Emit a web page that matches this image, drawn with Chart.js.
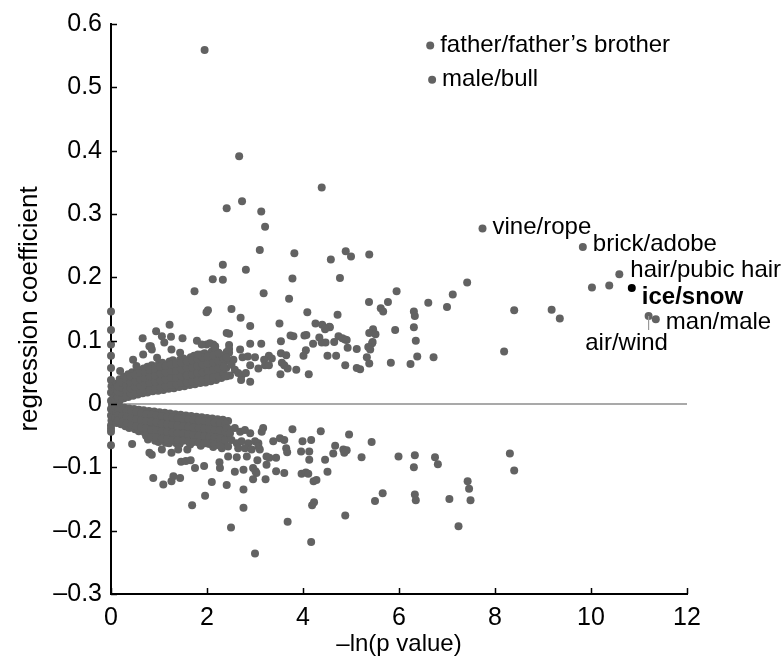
<!DOCTYPE html>
<html>
<head>
<meta charset="utf-8">
<script src="https://cdn.jsdelivr.net/npm/chart.js@4.4.0/dist/chart.umd.min.js"></script>
<style>
body { margin: 0; background: #fff; }
canvas { display: block; }
</style>
</head>
<body>
<canvas id="mycanvas" width="783" height="664"></canvas>
<script>
// x = -ln(p value), y = regression coefficient
var xTicks = [0, 2, 4, 6, 8, 10, 12];
var yTicks = [-0.3, -0.2, -0.1, 0, 0.1, 0.2, 0.3, 0.4, 0.5, 0.6];

// dots sitting on the y axis
var axisPoints = [[0,0.146],[0,0.117],[0,0.094],[0,0.076],[0,0.057],[0,0.038],[0,0.018],[0,0.005],
	[0,-0.008],[0,-0.018],[0,-0.034],[0,-0.039],[0,-0.044],[0,-0.065],[0.02,0.0],[0.06,-0.002],[0.08,0.002],[0.01,-0.026],[0.01,0.028]];

// dense positive band
var upperBand = [
	[0.03,0.004],[0.05,0.013],[0.04,0.021],
	[0.1,0.006],[0.11,0.016],[0.09,0.025],[0.12,0.032],
	[0.18,0.005],[0.19,0.013],[0.17,0.022],[0.2,0.03],[0.18,0.039],
	[0.27,0.009],[0.28,0.018],[0.26,0.026],[0.29,0.035],[0.27,0.043],
	[0.36,0.011],[0.37,0.02],[0.35,0.029],[0.38,0.038],[0.36,0.047],
	[0.46,0.013],[0.45,0.022],[0.47,0.031],[0.46,0.041],[0.44,0.05],
	[0.56,0.015],[0.57,0.024],[0.55,0.034],[0.58,0.044],[0.56,0.054],
	[0.66,0.017],[0.65,0.026],[0.67,0.036],[0.66,0.046],[0.68,0.056],
	[0.76,0.018],[0.77,0.028],[0.75,0.038],[0.78,0.049],[0.76,0.059],
	[0.87,0.02],[0.86,0.03],[0.88,0.04],[0.87,0.05],[0.85,0.061],
	[0.98,0.021],[0.99,0.031],[0.97,0.042],[0.98,0.053],[1.0,0.064],
	[1.09,0.022],[1.08,0.033],[1.1,0.044],[1.09,0.055],[1.07,0.065],
	[1.2,0.024],[1.21,0.035],[1.19,0.046],[1.2,0.057],[1.22,0.067],
	[1.31,0.025],[1.3,0.036],[1.32,0.047],[1.31,0.058],[1.29,0.069],
	[1.42,0.027],[1.43,0.038],[1.41,0.049],[1.42,0.06],[1.44,0.07],
	[1.53,0.028],[1.52,0.039],[1.54,0.051],[1.53,0.062],[1.51,0.072],
	[1.64,0.03],[1.65,0.041],[1.63,0.052],[1.64,0.063],[1.66,0.074],
	[1.75,0.031],[1.74,0.043],[1.76,0.054],[1.75,0.065],[1.73,0.076],
	[1.86,0.033],[1.87,0.044],[1.85,0.056],[1.86,0.067],[1.88,0.078],
	[1.97,0.034],[1.96,0.046],[1.98,0.058],[1.97,0.069],[1.95,0.08],
	[2.08,0.036],[2.09,0.048],[2.07,0.06],[2.08,0.071],[2.1,0.083],
	[2.19,0.038],[2.18,0.05],[2.2,0.062],[2.19,0.074],[2.17,0.086],
	[2.3,0.041],[2.31,0.053],[2.29,0.065],[2.3,0.077],
	[2.41,0.044],[2.4,0.057],[2.42,0.069],[2.41,0.082],
	// in-between dots of the same band
	[0.14,0.011],[0.14,0.02],[0.14,0.028],
	[0.23,0.009],[0.23,0.018],[0.23,0.026],[0.23,0.034],
	[0.32,0.013],[0.32,0.022],[0.32,0.03],[0.32,0.039],
	[0.41,0.016],[0.41,0.025],[0.41,0.034],[0.41,0.043],
	[0.51,0.018],[0.51,0.027],[0.51,0.036],[0.51,0.046],
	[0.61,0.02],[0.61,0.029],[0.61,0.039],[0.61,0.049],
	[0.71,0.022],[0.71,0.031],[0.71,0.041],[0.71,0.051],
	[0.81,0.023],[0.81,0.033],[0.81,0.044],[0.81,0.054],
	[0.92,0.025],[0.92,0.035],[0.92,0.045],[0.92,0.056],
	[1.03,0.026],[1.03,0.037],[1.03,0.048],[1.03,0.059],
	[1.14,0.028],[1.14,0.039],[1.14,0.05],[1.14,0.06],
	[1.25,0.03],[1.25,0.041],[1.25,0.052],[1.25,0.062],
	[1.36,0.031],[1.36,0.042],[1.36,0.053],[1.36,0.064],
	[1.47,0.033],[1.47,0.044],[1.47,0.055],[1.47,0.065],
	[1.58,0.034],[1.58,0.045],[1.58,0.057],[1.58,0.067],
	[1.69,0.036],[1.69,0.047],[1.69,0.058],[1.69,0.069],
	[1.8,0.037],[1.8,0.049],[1.8,0.06],[1.8,0.071],
	[1.91,0.039],[1.91,0.05],[1.91,0.062],[1.91,0.073],
	[2.02,0.04],[2.02,0.052],[2.02,0.064],[2.02,0.075],
	[2.13,0.042],[2.13,0.054],[2.13,0.066],[2.13,0.077],
	[2.24,0.044],[2.24,0.056],[2.24,0.068],[2.24,0.08],
	[2.35,0.047],[2.35,0.059],[2.35,0.071]
];

// scattered positive dots
var upperScatter = [
	[1.95,0.559],[2.67,0.391],[4.39,0.342],[2.41,0.309],[2.73,0.320],[3.13,0.304],[3.21,0.280],[3.10,0.243],
	[3.82,0.238],[4.58,0.228],[4.89,0.241],[5.0,0.233],[5.38,0.236],[2.33,0.220],[2.81,0.212],[2.12,0.197],
	[2.33,0.196],[3.78,0.198],[4.77,0.199],[1.74,0.178],[3.18,0.175],[3.71,0.166],[5.95,0.178],[5.375,0.161],
	[5.77,0.161],[5.62,0.151],[5.67,0.146],[6.61,0.160],[7.0,0.153],[7.12,0.173],[7.42,0.192],[8.40,0.148],
	[9.18,0.149],[9.35,0.135],[10.02,0.184],[10.38,0.187],[8.19,0.083],
	[6.31,0.146],[6.33,0.139],[6.31,0.121],[6.35,0.100],[5.92,0.117],[5.83,0.065],[6.24,0.063],[6.38,0.075],[6.72,0.074],
	[4.72,0.141],[4.56,0.121],[4.09,0.145],[4.26,0.127],[4.40,0.125],[4.55,0.122],[4.46,0.118],[3.51,0.127],
	[2.90,0.123],[2.70,0.136],[2.51,0.150],[1.99,0.145],[2.02,0.148],[1.22,0.125],[0.94,0.115],
	[5.46,0.118],[5.38,0.112],[5.51,0.110],[5.45,0.098],[4.74,0.107],[4.875,0.102],[4.82,0.104],[4.91,0.101],
	[4.65,0.098],[4.34,0.105],[4.39,0.097],[4.47,0.097],[4.21,0.095],[3.74,0.108],[3.80,0.107],[4.03,0.108],
	[4.07,0.109],[3.54,0.099],[2.46,0.111],[2.46,0.093],[2.46,0.087],[2.90,0.095],[3.13,0.095],[2.69,0.086],
	[4.93,0.089],[5.12,0.087],[4.06,0.085],[2.46,0.081],[2.74,0.074],[2.85,0.075],[3.0,0.074],[3.29,0.076],
	[3.54,0.080],[3.65,0.077],[4.01,0.076],[4.51,0.076],[4.69,0.076],[3.19,0.070],[3.35,0.072],[3.56,0.065],
	[3.61,0.061],[3.21,0.061],[3.29,0.061],[2.90,0.061],[3.07,0.056],[3.68,0.056],[3.86,0.054],[3.53,0.047],
	[4.12,0.047],[4.88,0.061],[5.12,0.057],[5.19,0.055],[5.44,0.096],[5.36,0.090],[5.40,0.086],[5.33,0.074],[5.38,0.064],
	[2.51,0.062],[2.58,0.054],[2.65,0.049],[2.72,0.045],[2.48,0.045],[2.71,0.038],[2.90,0.035],[2.81,0.049],
	[2.55,0.070],[2.41,0.073],[2.38,0.044],
	[0.66,0.104],[1.06,0.107],[1.25,0.106],[1.49,0.104],[1.79,0.100],[2.41,0.112],[0.83,0.091],[1.11,0.097],
	[0.67,0.078],[0.96,0.073],[1.26,0.086],[1.44,0.081],[1.81,0.078],[1.99,0.094],[2.13,0.094],[2.24,0.081],
	[0.46,0.070],[0.53,0.060],[0.19,0.052],[1.89,0.094],[2.06,0.096],[2.17,0.091],[0.80,0.091],[0.85,0.086]
];

// dense negative band
var lowerBand = [
	[0.03,-0.004],[0.05,-0.012],[0.04,-0.02],
	[0.1,-0.004],[0.11,-0.013],[0.09,-0.022],[0.12,-0.03],
	[0.19,-0.005],[0.2,-0.014],[0.18,-0.023],[0.21,-0.032],
	[0.28,-0.006],[0.29,-0.015],[0.27,-0.025],[0.3,-0.035],
	[0.38,-0.007],[0.37,-0.017],[0.39,-0.027],[0.38,-0.038],
	[0.48,-0.008],[0.49,-0.018],[0.47,-0.029],[0.5,-0.04],
	[0.58,-0.009],[0.57,-0.02],[0.59,-0.031],[0.58,-0.043],
	[0.68,-0.01],[0.69,-0.021],[0.67,-0.033],[0.7,-0.045],
	[0.79,-0.011],[0.78,-0.022],[0.8,-0.034],[0.79,-0.047],[0.77,-0.056],
	[0.9,-0.012],[0.91,-0.023],[0.89,-0.035],[0.9,-0.048],[0.92,-0.058],
	[1.01,-0.013],[1.0,-0.025],[1.02,-0.037],[1.01,-0.049],[0.99,-0.06],
	[1.12,-0.014],[1.13,-0.026],[1.11,-0.038],[1.12,-0.05],[1.14,-0.061],
	[1.23,-0.015],[1.22,-0.027],[1.24,-0.039],[1.23,-0.051],[1.21,-0.062],
	[1.34,-0.016],[1.35,-0.028],[1.33,-0.04],[1.34,-0.052],[1.36,-0.062],
	[1.45,-0.017],[1.44,-0.029],[1.46,-0.041],[1.45,-0.053],[1.43,-0.063],
	[1.56,-0.018],[1.57,-0.03],[1.55,-0.042],[1.56,-0.054],
	[1.67,-0.019],[1.66,-0.031],[1.68,-0.043],[1.67,-0.055],[1.65,-0.064],
	[1.78,-0.02],[1.79,-0.032],[1.77,-0.044],[1.78,-0.056],
	[1.89,-0.021],[1.88,-0.033],[1.9,-0.045],[1.89,-0.057],[1.87,-0.066],
	[2.0,-0.022],[2.01,-0.034],[1.99,-0.046],[2.0,-0.058],
	[2.11,-0.023],[2.1,-0.035],[2.12,-0.047],[2.11,-0.059],[2.13,-0.068],
	[2.22,-0.024],[2.23,-0.036],[2.21,-0.048],[2.22,-0.06],
	[2.33,-0.025],[2.32,-0.037],[2.34,-0.05],[2.33,-0.062],[2.31,-0.07],
	[2.44,-0.027],[2.45,-0.04],[2.43,-0.053],
	// in-between dots of the same band
	[0.15,-0.009],[0.15,-0.018],[0.15,-0.026],
	[0.24,-0.01],[0.24,-0.019],[0.24,-0.028],
	[0.33,-0.011],[0.33,-0.02],[0.33,-0.03],
	[0.43,-0.012],[0.43,-0.022],[0.43,-0.033],
	[0.53,-0.013],[0.53,-0.024],[0.53,-0.035],
	[0.63,-0.015],[0.63,-0.026],[0.63,-0.037],
	[0.73,-0.016],[0.73,-0.027],[0.73,-0.039],[0.73,-0.05],
	[0.84,-0.017],[0.84,-0.028],[0.84,-0.041],[0.84,-0.052],
	[0.95,-0.018],[0.95,-0.029],[0.95,-0.042],[0.95,-0.053],
	[1.06,-0.019],[1.06,-0.031],[1.06,-0.043],[1.06,-0.055],
	[1.17,-0.02],[1.17,-0.032],[1.17,-0.044],[1.17,-0.056],
	[1.28,-0.021],[1.28,-0.033],[1.28,-0.045],[1.28,-0.057],
	[1.39,-0.022],[1.39,-0.034],[1.39,-0.046],[1.39,-0.057],
	[1.5,-0.023],[1.5,-0.035],[1.5,-0.047],[1.5,-0.058],
	[1.61,-0.024],[1.61,-0.036],[1.61,-0.048],[1.61,-0.059],
	[1.72,-0.025],[1.72,-0.037],[1.72,-0.049],[1.72,-0.06],
	[1.83,-0.026],[1.83,-0.038],[1.83,-0.05],[1.83,-0.061],
	[1.94,-0.027],[1.94,-0.039],[1.94,-0.051],[1.94,-0.062],
	[2.05,-0.028],[2.05,-0.04],[2.05,-0.052],[2.05,-0.063],
	[2.16,-0.029],[2.16,-0.041],[2.16,-0.053],[2.16,-0.064],
	[2.27,-0.03],[2.27,-0.042],[2.27,-0.055],[2.27,-0.066],
	[2.38,-0.031],[2.38,-0.044],[2.38,-0.057]
];

// scattered negative dots
var lowerScatter = [
	[0.44,-0.063],[0.80,-0.077],[0.85,-0.080],[1.06,-0.072],[1.26,-0.077],[1.40,-0.072],[1.59,-0.072],[1.46,-0.091],
	[1.56,-0.090],[1.66,-0.089],[1.75,-0.101],[1.94,-0.098],[2.26,-0.092],[2.27,-0.101],[1.99,-0.062],[0.88,-0.117],
	[1.09,-0.127],[1.26,-0.122],[1.30,-0.114],[1.44,-0.117],[2.10,-0.123],[2.41,-0.128],[1.96,-0.145],[1.69,-0.160],
	[2.5,-0.195],[2.76,-0.135],[2.76,-0.164],[3.0,-0.236],[3.68,-0.186],[4.17,-0.218],[4.19,-0.160],[4.23,-0.155],
	[4.88,-0.176],[5.5,-0.153],[5.66,-0.141],[5.22,-0.084],[5.43,-0.060],[5.99,-0.083],[6.33,-0.081],[6.31,-0.100],
	[6.75,-0.084],[6.81,-0.095],[8.31,-0.078],[8.40,-0.105],[6.33,-0.143],[6.35,-0.152],[7.05,-0.150],[7.43,-0.122],
	[7.46,-0.134],[7.49,-0.152],[7.24,-0.193],
	[3.78,-0.040],[4.37,-0.043],[4.96,-0.048],[3.52,-0.054],[3.61,-0.057],[3.38,-0.059],[3.99,-0.059],[4.17,-0.057],
	[3.65,-0.070],[3.67,-0.076],[3.96,-0.075],[4.13,-0.075],[4.67,-0.066],[4.84,-0.072],[4.91,-0.073],[4.86,-0.077],
	[4.63,-0.078],[4.46,-0.088],[4.13,-0.088],[3.24,-0.083],[3.30,-0.085],[3.44,-0.085],[3.05,-0.089],[2.96,-0.101],
	[3.01,-0.106],[3.03,-0.109],[2.76,-0.104],[2.58,-0.107],[3.44,-0.106],[3.61,-0.109],[3.97,-0.110],[4.06,-0.108],
	[4.11,-0.110],[4.51,-0.107],[2.96,-0.119],[3.22,-0.119],[4.22,-0.122],[4.28,-0.120],
	[2.41,-0.038],[2.48,-0.046],[2.58,-0.038],[2.69,-0.044],[2.79,-0.041],[2.90,-0.046],[2.51,-0.057],[2.62,-0.062],
	[2.72,-0.059],[2.86,-0.062],[3.0,-0.059],[3.07,-0.062],[3.14,-0.044],[3.17,-0.038],[2.44,-0.067],[2.65,-0.070],
	[2.79,-0.070],[2.93,-0.072],[3.07,-0.067],[2.44,-0.083],[2.62,-0.084],[2.83,-0.083],[3.10,-0.072],[3.24,-0.096]
];

// named word pairs
var pairNames = ['father/father\u2019s brother', 'male/bull', 'vine/rope', 'brick/adobe', 'hair/pubic hair', 'ice/snow', 'man/male', 'air/wind'];
var pairX = [6.65, 6.69, 7.74, 9.83, 10.59, 10.85, 11.35, 11.20];
var pairY = [0.566, 0.512, 0.277, 0.248, 0.205, 0.183, 0.134, 0.139];

var zeroLine = [[0, 0], [12, 0]];

function toPts(arr) {
	return arr.map(function(p) { return {x: p[0], y: p[1]}; });
}

var grayPts = toPts(axisPoints.concat(upperBand, upperScatter, lowerBand, lowerScatter));
var pairPts = [];
var icePts = [];
for (var i = 0; i < pairNames.length; i++) {
	if (pairNames[i] == 'ice/snow') icePts.push({x: pairX[i], y: pairY[i]});
	else pairPts.push({x: pairX[i], y: pairY[i]});
}

var FONT = "'Liberation Sans', Arial, Helvetica, sans-serif";
var DOT = 'rgb(98,98,98)';

// label placement relative to each dot: [dx, dy, align]
var labelPos = {
	'father/father\u2019s brother': [10, 0, 'left'],
	'male/bull': [10, 0, 'left'],
	'vine/rope': [10, -1, 'left'],
	'brick/adobe': [10, -3, 'left'],
	'hair/pubic hair': [11, -4, 'left'],
	'ice/snow': [10, 9, 'left'],
	'man/male': [10, 3, 'left'],
	'air/wind': [-22, 27, 'center']
};

var extras = {
	id: 'extras',
	afterDraw: function(chart) {
		var c = chart.ctx;
		var xs = chart.scales.x, ys = chart.scales.y;
		var area = chart.chartArea;
		c.save();
		// inward tick marks
		c.strokeStyle = '#000';
		c.lineWidth = 1.5;
		c.beginPath();
		xTicks.forEach(function(v) {
			var px = Math.round(xs.getPixelForValue(v)) + 0.5;
			c.moveTo(px, area.bottom);
			c.lineTo(px, area.bottom - 6);
		});
		yTicks.forEach(function(v) {
			var py = Math.round(ys.getPixelForValue(v)) + 0.5;
			c.moveTo(area.left, py);
			c.lineTo(area.left + 6, py);
		});
		c.stroke();

		// labels
		c.fillStyle = '#000';
		c.textBaseline = 'middle';
		for (var i = 0; i < pairNames.length; i++) {
			var name = pairNames[i];
			var px = xs.getPixelForValue(pairX[i]);
			var py = ys.getPixelForValue(pairY[i]);
			var pos = labelPos[name];
			c.font = (name == 'ice/snow' ? 'bold ' : '') + '24px ' + FONT;
			c.textAlign = pos[2];
			c.fillText(name, px + pos[0], py + pos[1]);
			if (name == 'air/wind') {
				c.strokeStyle = '#999';
				c.lineWidth = 1.2;
				c.beginPath();
				c.moveTo(px, py);
				c.lineTo(px, py + 14);
				c.stroke();
			}
		}
		c.restore();
	}
};

var ctx = document.getElementById('mycanvas');
var chart = new Chart(ctx, {
	type: 'scatter',
	data: {
		datasets: [
			{
				type: 'line',
				data: toPts(zeroLine),
				borderColor: '#a9a9a9',
				borderWidth: 2,
				pointRadius: 0,
				fill: false,
				order: 3
			},
			{
				data: grayPts,
				backgroundColor: DOT,
				borderWidth: 0,
				pointRadius: 4,
				clip: false,
				order: 2
			},
			{
				data: pairPts,
				backgroundColor: DOT,
				borderWidth: 0,
				pointRadius: 4,
				clip: false,
				order: 1
			},
			{
				data: icePts,
				backgroundColor: '#000',
				borderWidth: 0,
				pointRadius: 4,
				clip: false,
				order: 0
			}
		]
	},
	options: {
		responsive: false,
		animation: false,
		events: [],
		layout: { padding: { left: 0, right: 96, top: 17, bottom: 0 } },
		plugins: { legend: { display: false }, tooltip: { enabled: false } },
		scales: {
			x: {
				type: 'linear',
				min: 0,
				max: 12,
				afterBuildTicks: function(scale) { scale.ticks = xTicks.map(function(v) { return {value: v}; }); },
				afterFit: function(scale) { scale.height = 70; },
				ticks: {
					color: '#000',
					font: { family: FONT, size: 25 },
					padding: 9,
					maxRotation: 0,
					callback: function(v) { return String(v); }
				},
				grid: { display: false, drawTicks: false },
				border: { display: true, color: '#000', width: 2 },
				title: {
					display: true,
					text: '\u2013ln(p value)',
					color: '#000',
					font: { family: FONT, size: 24 },
					padding: { top: 0, bottom: 5 }
				}
			},
			y: {
				type: 'linear',
				min: -0.3,
				max: 0.6,
				afterBuildTicks: function(scale) { scale.ticks = yTicks.map(function(v) { return {value: v}; }); },
				afterFit: function(scale) { scale.width = 111; },
				ticks: {
					color: '#000',
					font: { family: FONT, size: 25 },
					padding: 9,
					callback: function(v) {
						var r = Math.round(v * 10) / 10;
						if (r == 0) return '0';
						return r < 0 ? '\u2013' + Math.abs(r).toFixed(1) : r.toFixed(1);
					}
				},
				grid: { display: false, drawTicks: false },
				border: { display: true, color: '#000', width: 2 },
				title: {
					display: true,
					text: 'regression coefficient',
					color: '#000',
					font: { family: FONT, size: 26 },
					padding: { top: 14, bottom: 0 }
				}
			}
		}
	},
	plugins: [extras]
});
</script>
</body>
</html>
